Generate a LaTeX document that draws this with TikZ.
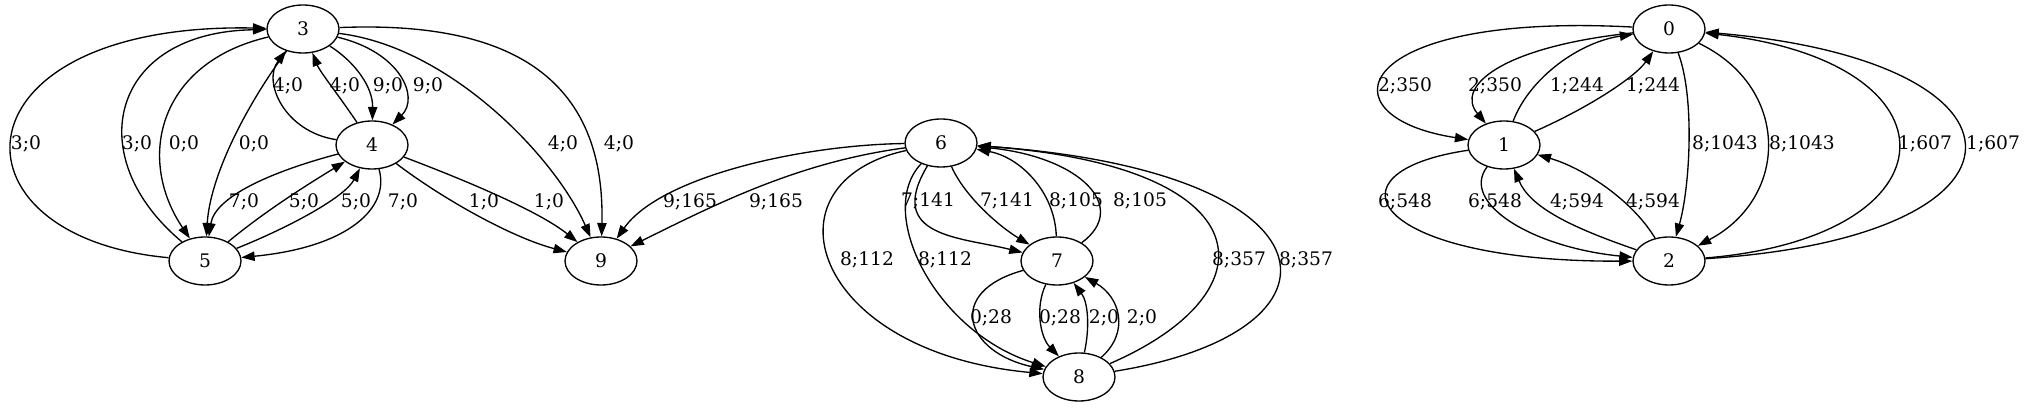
\documentclass[tikz,border=0pt]{standalone}
\usepackage{fontspec}
\setmainfont{DejaVu Serif}
\usepackage{tikz}
\usetikzlibrary{arrows.meta, shapes.geometric}
\tikzset{
  vertex/.style={draw, ellipse, line width=1pt, minimum width=54pt,
                 minimum height=36pt, inner sep=0pt,
                 font=\fontsize{14}{16}\selectfont},
  arc/.style={draw, line width=1pt, -{Triangle[length=10pt, width=7pt]}},
  elabel/.style={inner sep=0pt, font=\fontsize{14}{16}\selectfont},
}

\begin{document}
\begin{tikzpicture}[x=0.75pt, y=0.75pt]
  \useasboundingbox (0,0) rectangle (2027,407);
  % Left graph
  \node[vertex] (n3) at (303,378) {3};
  \node[vertex] (n4) at (372,262) {4};
  \node[vertex] (n5) at (205,146) {5};
  \node[vertex] (n9) at (601,146) {9};
  % Middle graph
  \node[vertex] (n6) at (941,264) {6};
  \node[vertex] (n7) at (1057,146) {7};
  \node[vertex] (n8) at (1079,30) {8};
  % Right graph
  \node[vertex] (n0) at (1669,378) {0};
  \node[vertex] (n1) at (1504,262) {1};
  \node[vertex] (n2) at (1669,146) {2};

  % Edges of the left graph
  \draw[arc] (n5) .. controls (-60,170) and (-50,385) .. (n3);
  \node[elabel] (l53a) at (26,263) {3;0};
  \draw[arc] (n5) .. controls (80,250) and (110,375) .. (n3);
  \node[elabel] (l53b) at (137,263) {3;0};
  \draw[arc] (n3) .. controls (160,345) and (135,250) .. (n5);
  \node[elabel] (l35a) at (184,263) {0;0};
  \draw[arc] (n3) .. controls (245,300) and (210,230) .. (n5);
  \node[elabel] (l35b) at (254,263) {0;0};
  \draw[arc] (n4) .. controls (285,275) and (262,325) .. (n3);
  \node[elabel] (l43a) at (288,321) {4;0};
  \draw[arc] (n4) .. controls (340,310) and (320,335) .. (n3);
  \node[elabel] (l43b) at (345,321) {4;0};
  \draw[arc] (n3) .. controls (355,345) and (373,320) .. (n4);
  \node[elabel] (l34a) at (388,321) {9;0};
  \draw[arc] (n3) .. controls (400,355) and (420,310) .. (n4);
  \node[elabel] (l34b) at (428,321) {9;0};
  \draw[arc] (n3) .. controls (450,360) and (555,250) .. (n9);
  \node[elabel] (l39a) at (563,263) {4;0};
  \draw[arc] (n3) .. controls (480,385) and (606,350) .. (n9);
  \node[elabel] (l39b) at (619,263) {4;0};
  \draw[arc] (n4) .. controls (270,235) and (215,210) .. (n5);
  \node[elabel] (l45a) at (244,205) {7;0};
  \draw[arc] (n5) .. controls (270,200) and (320,230) .. (n4);
  \node[elabel] (l54a) at (304,205) {5;0};
  \draw[arc] (n5) .. controls (290,180) and (345,210) .. (n4);
  \node[elabel] (l54b) at (356,205) {5;0};
  \draw[arc] (n4) .. controls (390,200) and (350,160) .. (n5);
  \node[elabel] (l45b) at (403,205) {7;0};
  \draw[arc] (n4) .. controls (440,210) and (510,170) .. (n9);
  \node[elabel] (l49a) at (484,205) {1;0};
  \draw[arc] (n4) .. controls (470,225) and (540,195) .. (n9);
  \node[elabel] (l49b) at (549,205) {1;0};

  % Edges of the middle graph
  \draw[arc] (n6) .. controls (800,262) and (660,230) .. (n9);
  \node[elabel] (l69a) at (690,205) {9;165};
  \draw[arc] (n6) .. controls (800,245) and (720,205) .. (n9);
  \node[elabel] (l69b) at (776,205) {9;165};
  \draw[arc] (n6) .. controls (760,225) and (810,55) .. (n8);
  \node[elabel] (l68a) at (867,147) {8;112};
  \draw[arc] (n6) .. controls (875,195) and (935,75) .. (n8);
  \node[elabel] (l68b) at (945,147) {8;112};
  \draw[arc] (n6) .. controls (885,170) and (960,170) .. (n7);
  \node[elabel] (l67a) at (928,206) {7;141};
  \draw[arc] (n6) .. controls (965,210) and (1000,180) .. (n7);
  \node[elabel] (l67b) at (1007,206) {7;141};
  \draw[arc] (n7) .. controls (1055,215) and (1020,250) .. (n6);
  \node[elabel] (l76a) at (1076,206) {8;105};
  \draw[arc] (n7) .. controls (1130,200) and (1080,250) .. (n6);
  \node[elabel] (l76b) at (1140,206) {8;105};
  \draw[arc] (n8) .. controls (1275,115) and (1265,240) .. (n6);
  \node[elabel] (l86a) at (1239,147) {8;357};
  \draw[arc] (n8) .. controls (1360,75) and (1345,235) .. (n6);
  \node[elabel] (l86b) at (1306,147) {8;357};
  \draw[arc] (n7) .. controls (945,115) and (965,55) .. (n8);
  \node[elabel] (l78a) at (991,89) {0;28};
  \draw[arc] (n7) .. controls (1035,100) and (1040,70) .. (n8);
  \node[elabel] (l78b) at (1060,89) {0;28};
  \draw[arc] (n8) .. controls (1090,80) and (1088,105) .. (n7);
  \node[elabel] (l87a) at (1104,89) {2;0};
  \draw[arc] (n8) .. controls (1130,75) and (1120,110) .. (n7);
  \node[elabel] (l87b) at (1142,89) {2;0};

  % Edges of the right graph
  \draw[arc] (n0) .. controls (1350,395) and (1320,290) .. (n1);
  \node[elabel] (l01a) at (1405,321) {2;350};
  \draw[arc] (n0) .. controls (1500,360) and (1455,320) .. (n1);
  \node[elabel] (l01b) at (1495,321) {2;350};
  \draw[arc] (n1) .. controls (1530,330) and (1580,365) .. (n0);
  \node[elabel] (l10a) at (1577,321) {1;244};
  \draw[arc] (n1) .. controls (1590,300) and (1635,330) .. (n0);
  \node[elabel] (l10b) at (1653,321) {1;244};
  \draw[arc] (n0) .. controls (1695,310) and (1690,220) .. (n2);
  \node[elabel] (l02a) at (1725,263) {8;1043};
  \draw[arc] (n0) .. controls (1790,320) and (1790,210) .. (n2);
  \node[elabel] (l02b) at (1802,263) {8;1043};
  \draw[arc] (n2) .. controls (1960,170) and (1965,345) .. (n0);
  \node[elabel] (l20a) at (1925,263) {1;607};
  \draw[arc] (n2) .. controls (2050,170) and (2050,345) .. (n0);
  \node[elabel] (l20b) at (1993,263) {1;607};
  \draw[arc] (n1) .. controls (1320,235) and (1370,145) .. (n2);
  \node[elabel] (l12a) at (1405,205) {6;548};
  \draw[arc] (n1) .. controls (1460,205) and (1530,160) .. (n2);
  \node[elabel] (l12b) at (1495,205) {6;548};
  \draw[arc] (n2) .. controls (1570,180) and (1530,200) .. (n1);
  \node[elabel] (l21a) at (1577,205) {4;594};
  \draw[arc] (n2) .. controls (1630,210) and (1580,240) .. (n1);
  \node[elabel] (l21b) at (1653,205) {4;594};
\end{tikzpicture}
\end{document}
